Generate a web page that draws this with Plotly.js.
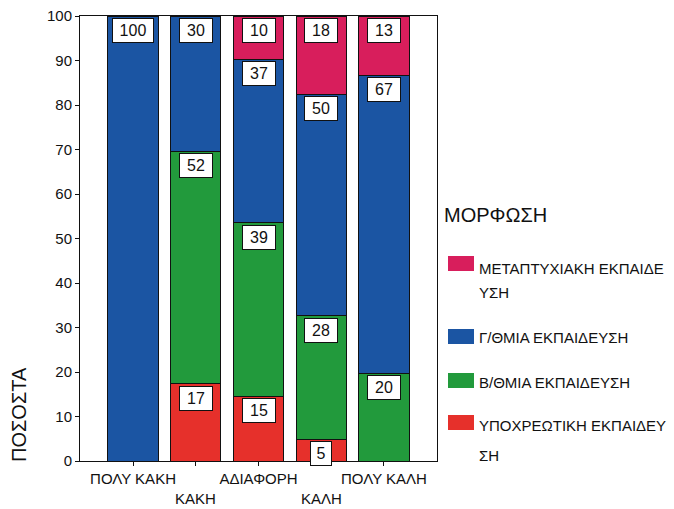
<!DOCTYPE html>
<html>
<head>
<meta charset="utf-8">
<script src="https://cdn.plot.ly/plotly-3.0.1.min.js"></script>
<style>html,body{margin:0;padding:0;background:#fff;}#chart{width:674px;height:509px;}</style>
</head>
<body>
<div id="chart"></div>
<script>
// ---- data ----
var categories = ['ΠΟΛΥ ΚΑΚΗ', 'ΚΑΚΗ', 'ΑΔΙΑΦΟΡΗ', 'ΚΑΛΗ', 'ΠΟΛΥ ΚΑΛΗ'];
var seriesNames = ['ΥΠΟΧΡΕΩΤΙΚΗ ΕΚΠΑΙΔΕΥΣΗ', 'Β/ΘΜΙΑ ΕΚΠΑΙΔΕΥΣΗ', 'Γ/ΘΜΙΑ ΕΚΠΑΙΔΕΥΣΗ', 'ΜΕΤΑΠΤΥΧΙΑΚΗ ΕΚΠΑΙΔΕΥΣΗ'];
var ypoxreotiki   = [0, 17.4, 14.5, 4.9, 0];
var deuterovathmia = [0, 52.2, 39.0, 27.7, 19.7];
var tritovathmia  = [100, 30.4, 36.8, 49.8, 67.0];
var metaptyxiaki  = [0, 0, 9.7, 17.6, 13.3];
var legendTitle = 'ΜΟΡΦΩΣΗ';
var legendLines = [['ΜΕΤΑΠΤΥΧΙΑΚΗ ΕΚΠΑΙΔΕ', 'ΥΣΗ'], ['Γ/ΘΜΙΑ ΕΚΠΑΙΔΕΥΣΗ'], ['Β/ΘΜΙΑ ΕΚΠΑΙΔΕΥΣΗ'], ['ΥΠΟΧΡΕΩΤΙΚΗ ΕΚΠΑΙΔΕΥ', 'ΣΗ']];
var yTitle = 'ΠΟΣΟΣΤΑ';

// ---- styling ----
var colors = ['#e6302b', '#229a3c', '#1b55a3', '#d81e5c'];
var FONT = 'Liberation Sans, Arial, sans-serif';
var L = 80, R = 437, T = 16, B = 461, W = 674, H = 509;
function px2x(px) { return (px - L) / (R - L); }
function px2y(py) { return (B - py) / (B - T); }

var seriesValues = [ypoxreotiki, deuterovathmia, tritovathmia, metaptyxiaki];
var xIdx = categories.map(function (c, i) { return i; });

var traces = seriesValues.map(function (vals, s) {
  return {
    type: 'bar', x: xIdx, y: vals, name: seriesNames[s],
    marker: { color: colors[s], line: { color: '#111', width: 1 } },
    showlegend: false, hoverinfo: 'skip'
  };
});

var annotations = [];
var boxW = [0, 16, 28, 36];
// value labels
var cum = categories.map(function () { return 0; });
seriesValues.forEach(function (vals) {
  vals.forEach(function (v, i) {
    cum[i] += v;
    if (v > 0) {
      var t = String(Math.round(v));
      annotations.push({
        x: i, y: cum[i], xref: 'x', yref: 'y', text: t, showarrow: false,
        xanchor: 'center', yanchor: 'top', yshift: -2,
        bgcolor: '#fff', bordercolor: '#111', borderwidth: 1, borderpad: 2,
        width: boxW[t.length], height: 19,
        font: { family: FONT, size: 16, color: '#111' }
      });
    }
  });
});

// second-row x labels (alternate categories)
categories.forEach(function (c, i) {
  if (i % 2 === 1) {
    annotations.push({
      x: i, y: px2y(498), xref: 'x', yref: 'paper', text: c, showarrow: false,
      xanchor: 'center', yanchor: 'middle',
      font: { family: FONT, size: 15, color: '#111' }
    });
  }
});

// y-axis title
annotations.push({
  x: px2x(19), y: px2y(415), xref: 'paper', yref: 'paper', text: yTitle, showarrow: false,
  textangle: -90, xanchor: 'center', yanchor: 'middle',
  font: { family: FONT, size: 20, color: '#111' }
});

// legend (manual)
annotations.push({
  x: px2x(442), y: px2y(215), xref: 'paper', yref: 'paper', text: legendTitle, showarrow: false,
  xanchor: 'left', yanchor: 'middle', font: { family: FONT, size: 20, color: '#111' }
});
var shapes = [];
var swatchY = [263.5, 336.5, 380.5, 422.5];
var legendColorIdx = [3, 2, 1, 0];
var textY = [[268, 292], [337], [382], [425, 455]];
legendLines.forEach(function (lines, k) {
  shapes.push({
    type: 'rect', xref: 'paper', yref: 'paper',
    x0: px2x(448), x1: px2x(474), y0: px2y(swatchY[k] + 7.5), y1: px2y(swatchY[k] - 7.5),
    fillcolor: colors[legendColorIdx[k]], line: { width: 0 }
  });
  lines.forEach(function (ln, j) {
    annotations.push({
      x: px2x(477), y: px2y(textY[k][j]), xref: 'paper', yref: 'paper', text: ln, showarrow: false,
      xanchor: 'left', yanchor: 'middle', font: { family: FONT, size: 15, color: '#111' }
    });
  });
});

var tickTextRow1 = categories.map(function (c, i) { return i % 2 === 0 ? c : ''; });

var layout = {
  width: W, height: H,
  margin: { l: L, r: W - R, t: T, b: H - B, pad: 0 },
  paper_bgcolor: '#fff', plot_bgcolor: '#fff',
  barmode: 'stack', bargap: 0.2,
  showlegend: false,
  font: { family: FONT, size: 14, color: '#111' },
  xaxis: {
    range: [-0.845, 4.845], tickmode: 'array', tickvals: xIdx, ticktext: tickTextRow1,
    ticks: 'outside', ticklen: 4, tickcolor: '#111', showgrid: false, zeroline: false,
    showline: true, linecolor: '#111', linewidth: 1, mirror: true,
    tickfont: { family: FONT, size: 15, color: '#111' }, fixedrange: true
  },
  yaxis: {
    range: [0, 100], dtick: 10, ticks: 'outside', ticklen: 4, tickcolor: '#111',
    showgrid: false, zeroline: false, showline: true, linecolor: '#111', linewidth: 1, mirror: true,
    tickfont: { family: FONT, size: 15, color: '#111' }, fixedrange: true
  },
  annotations: annotations,
  shapes: shapes
};

Plotly.newPlot('chart', traces, layout, { displayModeBar: false, staticPlot: true });
</script>
</body>
</html>
